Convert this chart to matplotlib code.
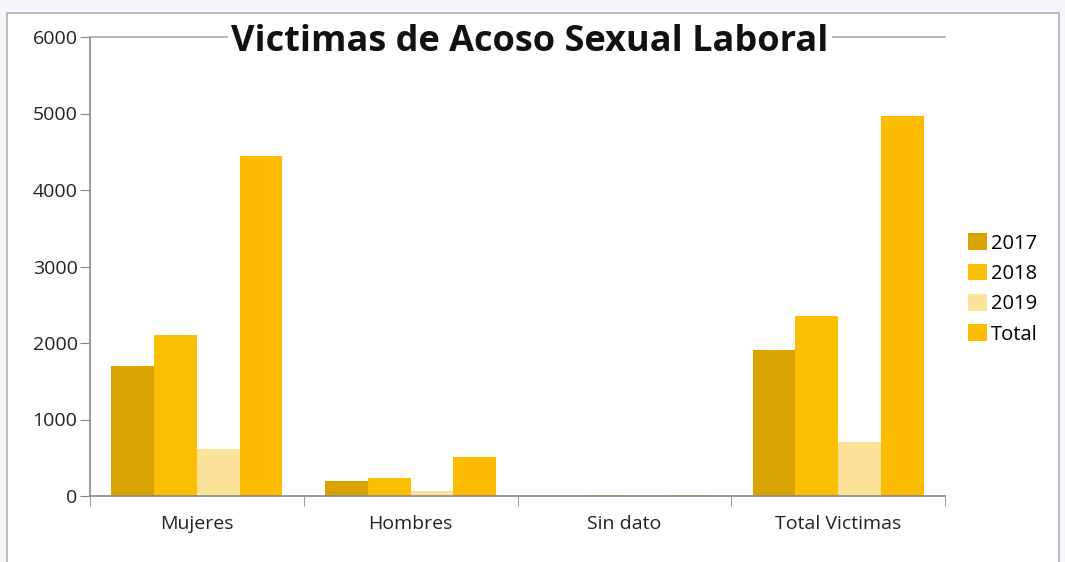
import numpy as np
import matplotlib.pyplot as plt
from matplotlib.patches import Rectangle

categories = ['Mujeres', 'Hombres', 'Sin dato', 'Total Victimas']
series = ['2017', '2018', '2019', 'Total']
v2017 = [1700, 200, 5, 1910]
v2018 = [2100, 240, 8, 2350]
v2019 = [620, 65, 3, 700]
vtotal = [4440, 510, 16, 4970]
colors = ['#D8A300', '#FBBE00', '#FDE29A', '#FBBC00']

plt.rcParams['font.family'] = ['Open Sans', 'DejaVu Sans']

fig = plt.figure(figsize=(10.65, 5.62), dpi=100, facecolor='#f4f6fa')
# marco blanco del grafico
fig.patches.append(Rectangle((7 / 1065, -0.01), 1052 / 1065, 1 - 13 / 562 + 0.01,
                             transform=fig.transFigure, facecolor='white',
                             edgecolor='#b0b0b0', linewidth=1.2, zorder=-5))

ax = fig.add_axes([90 / 1065, 66 / 562, 855 / 1065, 459 / 562])
ax.set_facecolor('white')

x = np.arange(len(categories))
w = 0.2
for i, (vals, lab) in enumerate(zip([v2017, v2018, v2019, vtotal], series)):
    ax.bar(x + (i - 1.5) * w, vals, w, color=colors[i], label=lab, zorder=2)

ax.set_xlim(-0.5, 3.5)
ax.set_ylim(0, 6000)
ax.set_yticks(range(0, 6001, 1000))
ax.set_xticks(x)
ax.set_xticklabels(categories)
ax.set_xticks(np.arange(-0.5, 3.6, 1), minor=True)
ax.tick_params(axis='x', which='major', length=0, labelsize=14, pad=14, labelcolor='#222222')
ax.tick_params(axis='x', which='minor', length=7, color='#888888', direction='out')
ax.tick_params(axis='y', length=7, color='#888888', labelsize=14, labelcolor='#222222', pad=2)

ax.spines['right'].set_visible(False)
for s in ['left', 'bottom', 'top']:
    ax.spines[s].set_color('#8a8a8a')
    ax.spines[s].set_linewidth(1.2)
ax.spines['top'].set_color('#aaaaaa')

fig.text(530 / 1065, 1 - 42 / 562, 'Victimas de Acoso Sexual Laboral', ha='center', va='center',
         fontsize=26, fontweight='bold', color='#111111',
         bbox=dict(facecolor='white', edgecolor='none', pad=2))

ax.legend(loc='upper left', bbox_to_anchor=(1.018, 0.59), frameon=False, fontsize=14.5,
          handlelength=0.9, handleheight=0.9, handletextpad=0.2, labelspacing=0.5,
          borderaxespad=0)

fig.savefig('out.png', dpi=100, facecolor=fig.get_facecolor())
